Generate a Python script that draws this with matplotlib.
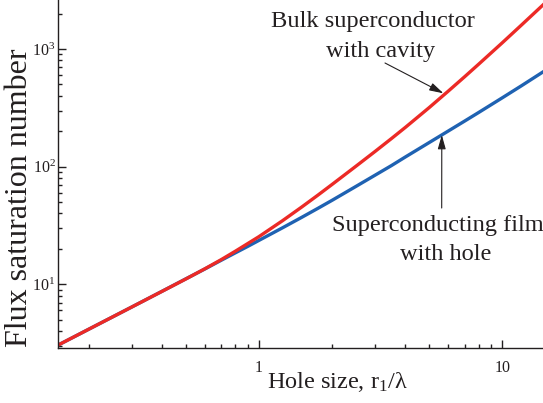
import numpy as np
import matplotlib
matplotlib.use("Agg")
import matplotlib.pyplot as plt
from matplotlib.ticker import LogLocator, FixedLocator, FixedFormatter, NullFormatter

plt.rcParams['font.family'] = ['Liberation Serif', 'DejaVu Serif']
plt.rcParams['mathtext.fontset'] = 'custom'
plt.rcParams['mathtext.rm'] = 'Liberation Serif'
plt.rcParams['mathtext.it'] = 'Liberation Serif:italic'

# ---- data ----
hole_size = [0.15, 0.2, 0.3, 0.4, 0.5, 0.6, 0.7, 0.8, 0.9, 1.0, 1.25, 1.5, 1.75,
             2.0, 2.5, 3.0, 3.5, 4.0, 5.0, 6.0, 7.0, 8.0, 10.0, 12.0, 14.8]
film_with_hole = [3.05, 4.15, 6.40, 8.72, 11.1, 13.5, 16.0, 18.5, 21.0, 23.6,
                  30.2, 37.1, 44.3, 51.8, 67.8, 84.6, 102, 121, 160, 201,
                  244, 289, 385, 488, 645]
bulk_with_cavity = [3.05, 4.15, 6.40, 8.71, 11.07, 13.55, 16.2, 19.1, 22.2, 25.4,
                    34.7, 45.4, 57.4, 70.7, 100.6, 134.6, 173, 216, 317, 439,
                    581, 744, 1131, 1603, 2403]

x_tick_values = [1, 10]
x_tick_labels = ["1", "10"]

ink = '#231F20'
red = '#EC2A26'
blue = '#1F62B2'

W, H = 543, 403
fig = plt.figure(figsize=(W / 100, H / 100), dpi=100)
ax_l, ax_b = 58.3, 348.0   # pixel positions of the left and bottom spines
ax = fig.add_axes([ax_l / W, (H - ax_b) / H, (W - ax_l) / W, ax_b / H])

ax.plot(hole_size, film_with_hole, color=blue, lw=2.4, solid_joinstyle='round')
ax.plot(hole_size, bulk_with_cavity, color=red, lw=2.4, solid_joinstyle='round')

ax.set_xscale('log')
ax.set_yscale('log')
ax.set_xlim(0.15, 10 ** 1.167)
ax.set_ylim(10 ** 0.4586, 10 ** 3.4165)

for s in ('top', 'right'):
    ax.spines[s].set_visible(False)
for s in ('left', 'bottom'):
    ax.spines[s].set_linewidth(1.0)
    ax.spines[s].set_color(ink)

ax.xaxis.set_major_locator(FixedLocator(x_tick_values))
ax.xaxis.set_major_formatter(FixedFormatter(x_tick_labels))
ax.xaxis.set_minor_locator(LogLocator(base=10, subs=np.arange(2, 10)))
ax.xaxis.set_minor_formatter(NullFormatter())
ax.yaxis.set_major_locator(LogLocator(base=10, numticks=10))
ax.yaxis.set_minor_locator(LogLocator(base=10, subs=np.arange(2, 10), numticks=10))
ax.yaxis.set_minor_formatter(NullFormatter())

ax.tick_params(which='both', direction='in', color=ink, width=1.0,
               labelcolor=ink, labelsize=11.5)
ax.tick_params(which='major', length=6)
ax.tick_params(which='minor', length=3.2)
ax.tick_params(axis='x', which='major', pad=9)
ax.tick_params(axis='y', which='major', pad=2)

# axis labels
fig.text(27.5 / W, 1 - 197.5 / H, 'Flux saturation number', rotation=90,
         rotation_mode='anchor', ha='center', va='baseline',
         fontsize=23, color=ink)
fig.text(337.5 / W, 1 - 388.3 / H, 'Hole size, r$_\\mathrm{1}$/λ',
         ha='center', va='baseline', fontsize=17.5, color=ink)

# annotations
fs = 17.6
fig.text(373.3 / W, 1 - 26.7 / H, 'Bulk superconductor', ha='center',
         va='baseline', fontsize=fs, color=ink)
fig.text(380.5 / W, 1 - 57.3 / H, 'with cavity', ha='center',
         va='baseline', fontsize=fs, color=ink)
fig.text(331.7 / W, 1 - 231 / H, 'Superconducting film', ha='left',
         va='baseline', fontsize=fs, color=ink)
fig.text(445.8 / W, 1 - 260 / H, 'with hole', ha='center',
         va='baseline', fontsize=fs, color=ink)

arrow = dict(arrowstyle='-|>,head_length=0.85,head_width=0.24',
             mutation_scale=10, lw=0.8, color=ink, shrinkA=0, shrinkB=0)
ax.annotate('', xy=(5.73, 420), xycoords='data',
            xytext=(385, H - 63), textcoords='figure pixels', arrowprops=arrow)
ax.annotate('', xy=(5.64, 186), xycoords='data',
            xytext=(441.7, H - 208), textcoords='figure pixels', arrowprops=arrow)

fig.savefig('out.png', dpi=100)
